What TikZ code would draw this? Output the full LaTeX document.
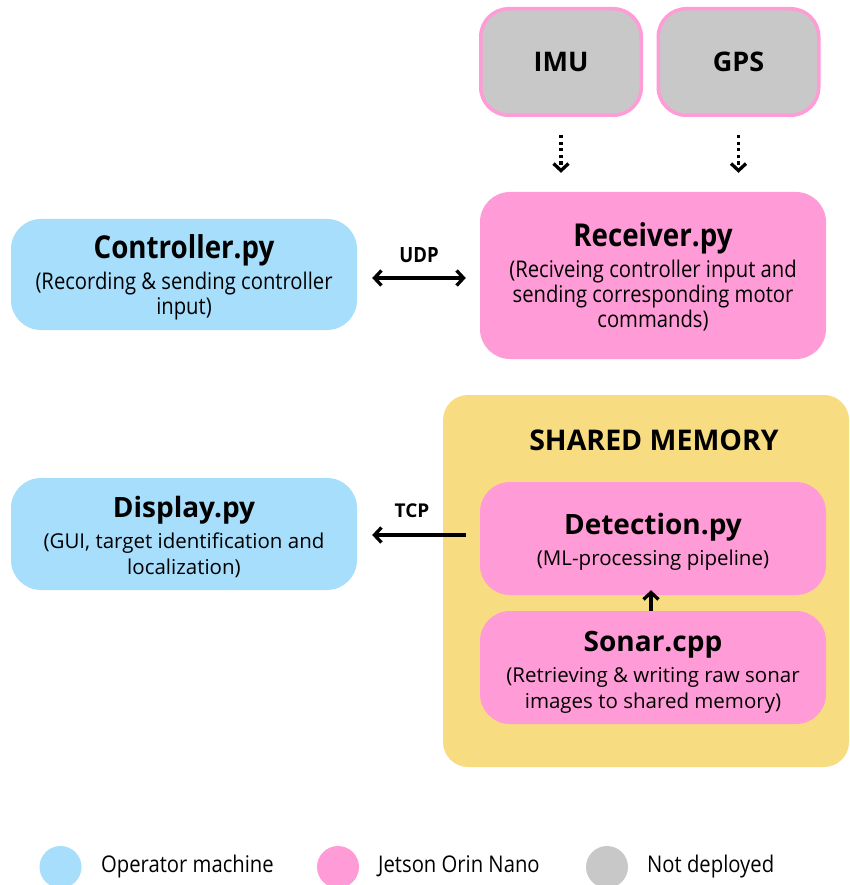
\documentclass[tikz,border=0pt]{standalone}
\usepackage{fontspec}
\setmainfont{Open Sans}
\newfontfamily\condf{Open Sans}[FakeStretch=0.88]
\usetikzlibrary{arrows.meta}
\setlength{\lineskiplimit}{-100pt}
\definecolor{opblue}{HTML}{A6DEFB}
\definecolor{jpink}{HTML}{FF9BD6}
\definecolor{ngray}{HTML}{C8C8C8}
\definecolor{memyel}{HTML}{F7DC82}
\newcommand{\ctitle}{\condf\bfseries\fontsize{31.5}{36}\selectfont\rule{0pt}{26pt}}
\newcommand{\csub}{\condf\fontsize{23}{25}\selectfont}
\newcommand{\wtitle}{\bfseries\fontsize{28}{32}\selectfont\rule{0pt}{23pt}}
\newcommand{\wsub}{\fontsize{20.5}{26}\selectfont}
\begin{document}
\begin{tikzpicture}[x=1pt,y=-1pt,
  box/.style={rounded corners=30pt, minimum width=346pt, inner sep=0pt},
  opbox/.style={box, fill=opblue},
  jbox/.style={box, fill=jpink},
  boxtext/.style={anchor=north, align=center, inner sep=0pt, text=black},
  ctext/.style={boxtext, font=\csub},
  wtext/.style={boxtext, font=\wsub},
  sensor/.style={rounded corners=28pt, fill=ngray, draw=jpink, line width=3.5pt,
     minimum width=160.5pt, minimum height=106.5pt, font=\bfseries\fontsize{27}{32}\selectfont},
  memory/.style={rounded corners=25pt, fill=memyel},
  link/.style={line width=3.3pt, line cap=butt},
  arr/.style={link, -{Straight Barb[length=7pt,width=15pt]}},
  biarr/.style={link, {Straight Barb[length=7pt,width=15pt]}-{Straight Barb[length=7pt,width=15pt]}},
  dotarr/.style={line width=3.3pt, dash pattern=on 3.3pt off 3.3pt, -{Straight Barb[length=7pt,width=15pt]}},
  lab/.style={inner sep=0pt, font=\condf\bfseries\fontsize{21}{24}\selectfont},
  legdot/.style={circle, minimum size=42pt, inner sep=0pt},
  legtext/.style={anchor=base west, inner sep=0pt, font=\condf\fontsize{23}{26}\selectfont}
]
\useasboundingbox (0,0) rectangle (849,885);
\fill[white] (0,0) rectangle (849,885);

% shared memory container
\node[memory, minimum width=406pt, minimum height=372pt, inner sep=0pt] (mem) at (646,581) {};
\node[font=\bfseries\fontsize{28.5}{32}\selectfont] (memtitle) at (654,440) {SHARED MEMORY};

% sensors
\node[sensor] (imu) at (561,62) {IMU};
\node[sensor] (gps) at (738.5,62) {GPS};

% main boxes
\node[opbox, minimum height=111pt] (ctrl) at (184,274.5) {};
\node[ctext] (ctrlt) at (184,232)
  {{\ctitle Controller.py}\\[6pt](Recording \& sending controller\\input)};
\node[jbox, minimum height=167pt] (recv) at (653,275.5) {};
\node[ctext] (recvt) at (653,220.5)
  {{\ctitle Receiver.py}\\[6pt](Reciveing controller input and\\sending corresponding motor\\commands)};
\node[opbox, minimum height=112pt] (disp) at (184,534) {};
\node[wtext] (dispt) at (184,494.5)
  {{\wtitle Display.py}\\[4.5pt](GUI, target identification and\\localization)};
\node[jbox, minimum height=113pt] (det) at (653,538.5) {};
\node[wtext] (dett) at (653,511.5)
  {{\wtitle Detection.py}\\[4.5pt](ML-processing pipeline)};
\node[jbox, minimum height=113pt] (son) at (653,667.5) {};
\node[wtext] (sont) at (653,628.5)
  {{\wtitle Sonar.cpp}\\[4.5pt](Retrieving \& writing raw sonar\\images to shared memory)};

% connectors
\draw[dotarr, shorten <=18pt, shorten >=19pt] (imu.south) -- (imu.south |- recv.north);
\draw[dotarr, shorten <=18pt, shorten >=19pt] (gps.south) -- (gps.south |- recv.north);
\draw[biarr, shorten <=15pt, shorten >=14pt] (ctrl.east |- 0,278) -- (recv.west |- 0,278);
\node[lab] (udp) at (419,255) {UDP};
\draw[arr, shorten <=14pt, shorten >=15pt] (det.west |- 0,535) -- (disp.east |- 0,535);
\node[lab, font=\bfseries\fontsize{19}{22}\selectfont] (tcp) at (412,511) {TCP};
\draw[arr, shorten >=-5pt] (son.north -| 651,0) -- (det.south -| 651,0);

% legend
\node[legdot, fill=opblue] (l1) at (60.5,867) {};
\node[legtext] (l1t) at (101,872) {Operator machine};
\node[legdot, fill=jpink] (l2) at (338,867) {};
\node[legtext] (l2t) at (378,872) {Jetson Orin Nano};
\node[legdot, fill=ngray] (l3) at (607,867) {};
\node[legtext] (l3t) at (647,872) {Not deployed};
\end{tikzpicture}
\end{document}
